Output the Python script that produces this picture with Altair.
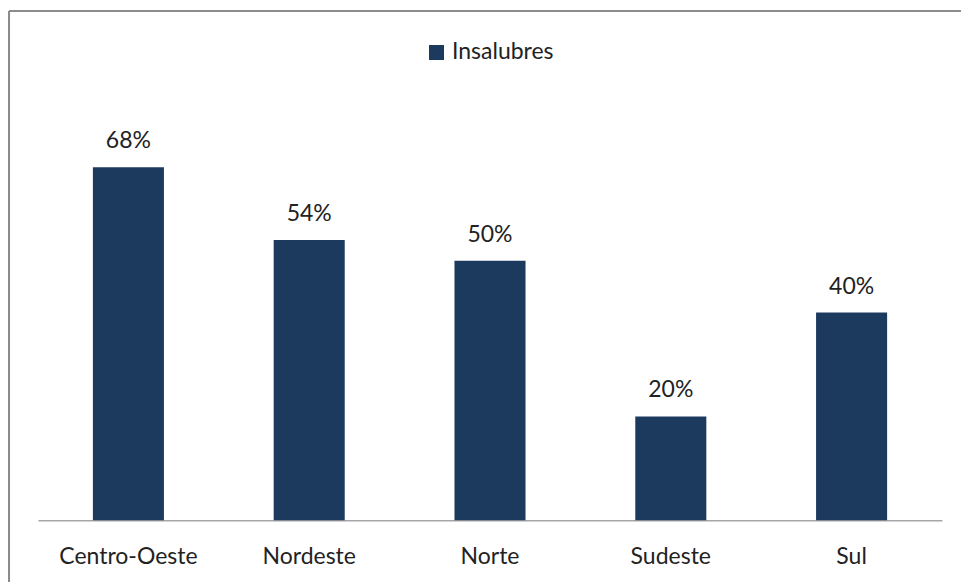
import altair as alt
import pandas as pd

regioes = ["Centro-Oeste", "Nordeste", "Norte", "Sudeste", "Sul"]
valores = [68, 54, 50, 20, 40]
serie = ["Insalubres"] * 5

df = pd.DataFrame({"regiao": regioes, "valor": valores, "serie": serie})
df["rotulo"] = df["valor"].astype(str) + "%"

FONT = "Lato"
FS = 23
COR = "#1c3a5e"
TXT = "#222222"

x = alt.X("regiao:N", sort=regioes, title=None,
          scale=alt.Scale(paddingInner=0.607, paddingOuter=0.3035),
          axis=alt.Axis(labelAngle=0, labelFont=FONT, labelFontSize=FS, labelColor=TXT,
                        ticks=False, domainColor="#a6a6a6", domainWidth=1.5, labelPadding=25))
y = alt.Y("valor:Q", scale=alt.Scale(domain=[0, 80]), axis=None)

bars = alt.Chart(df).mark_bar(color=COR).encode(
    x=x, y=y,
    color=alt.Color("serie:N", scale=alt.Scale(range=[COR]), title=None,
                    legend=alt.Legend(orient="none", legendX=387, legendY=-64, symbolType="square",
                                      symbolSize=225, labelFont=FONT, labelFontSize=FS,
                                      labelColor=TXT, symbolStrokeWidth=0)),
)
text = alt.Chart(df).mark_text(font=FONT, fontSize=FS, color=TXT, baseline="alphabetic", dy=-19).encode(
    x=x, y=y, text="rotulo:N")

top_border = alt.Chart(df).mark_rule(color="#8c8c8c", strokeWidth=2).encode(
    x=alt.value(-29), x2=alt.value(960), y=alt.value(-94))
left_border = alt.Chart(df).mark_rule(color="#8c8c8c", strokeWidth=2).encode(
    x=alt.value(-29), y=alt.value(-94), y2=alt.value(480))

chart = alt.layer(bars, text, top_border, left_border).properties(
    width=904, height=415.2,
    autosize=alt.AutoSizeParams(type="none"),
    padding={"left": 38, "top": 105, "right": 19, "bottom": 62},
    background="white",
).configure_view(stroke=None)

chart.save("out.html", embed_options={"renderer": "svg", "actions": False})
